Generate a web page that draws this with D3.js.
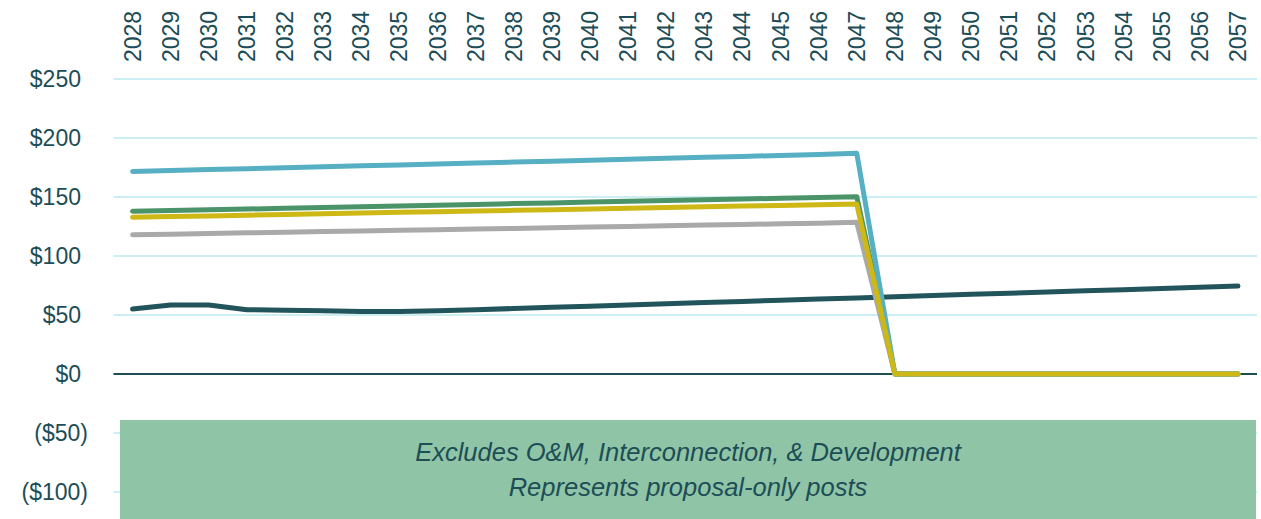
<!DOCTYPE html>
<html>
<head>
<meta charset="utf-8">
<script src="https://cdn.jsdelivr.net/npm/d3@7"></script>
<style>
  body { margin: 0; background: #fff; }
  svg { display: block; font-family: "Liberation Sans", Arial, sans-serif; }
</style>
</head>
<body>
<div id="chart"></div>
<script>
// years along the top
var years = d3.range(2028, 2058).map(String);
var yTicks = [250, 200, 150, 100, 50, 0, -50, -100];

// series values
var darkSeries = [55, 58.5, 58.5, 54.5, 54, 53.5, 53, 53, 53.5, 54.5, 55.5, 56.5, 57.5, 58.5, 59.5,
  60.5, 61.5, 62.5, 63.5, 64.5, 65.5, 66.5, 67.5, 68.5, 69.5, 70.5, 71.5, 72.5, 73.5, 74.5];
var graySeries = [118, 118.5, 119, 119.6, 120.1, 120.7, 121.2, 121.8, 122.3, 122.9, 123.4, 124,
  124.5, 125.1, 125.6, 126.2, 126.7, 127.3, 127.8, 128.5, 0, 0, 0, 0, 0, 0, 0, 0, 0, 0];
var greenSeries = [137.9, 138.5, 139.2, 139.8, 140.5, 141.1, 141.8, 142.4, 143.1, 143.7, 144.4, 145,
  145.7, 146.3, 147, 147.6, 148.3, 148.9, 149.6, 150.3, 0, 0, 0, 0, 0, 0, 0, 0, 0, 0];
var blueSeries = [171.6, 172.4, 173.2, 174, 174.8, 175.6, 176.4, 177.2, 178, 178.8, 179.6, 180.4,
  181.2, 182, 182.8, 183.6, 184.4, 185.2, 186, 187, 0, 0, 0, 0, 0, 0, 0, 0, 0, 0];
var yellowSeries = [132.8, 133.4, 134, 134.6, 135.2, 135.8, 136.4, 137, 137.5, 138.1, 138.7, 139.3,
  139.9, 140.5, 141.1, 141.7, 142.3, 142.8, 143.4, 144, 0, 0, 0, 0, 0, 0, 0, 0, 0, 0];
var noteLines = ['Excludes O&M, Interconnection, & Development', 'Represents proposal-only posts'];

var width = 1261, height = 519;
var textColor = '#1d4d56';

var x = d3.scalePoint().domain(years).range([113.5, 1257]).padding(0.5);
var y = d3.scaleLinear().domain([-100, 250]).range([492, 79]);

var svg = d3.select('#chart').append('svg').attr('width', width).attr('height', height);

// gridlines
svg.append('g').selectAll('line').data(yTicks.filter(function (d) { return d !== 0; }))
  .enter().append('line')
  .attr('x1', 113.5).attr('x2', 1257)
  .attr('y1', function (d) { return y(d); }).attr('y2', function (d) { return y(d); })
  .attr('stroke', '#cdeef4').attr('stroke-width', 2);

// y labels, accounting style
var fmt = function (d) { return d < 0 ? '($' + Math.abs(d) + ')' : '$' + d; };
svg.append('g').selectAll('text').data(yTicks).enter().append('text')
  .attr('x', function (d) { return d < 0 ? 88 : 81; })
  .attr('y', function (d) { return y(d); })
  .attr('dy', '0.35em')
  .attr('text-anchor', 'end')
  .attr('fill', textColor)
  .style('font-size', '23px')
  .text(fmt);

// year labels, rotated
svg.append('g').selectAll('text').data(years).enter().append('text')
  .attr('transform', function (d) { return 'translate(' + x(d) + ',62) rotate(-90)'; })
  .attr('dy', '0.35em')
  .attr('fill', textColor)
  .style('font-size', '23px')
  .text(function (d) { return d; });

// note box
var box = svg.append('g');
box.append('rect')
  .attr('x', 120).attr('width', 1256 - 120)
  .attr('y', y(-39)).attr('height', height - y(-39))
  .attr('fill', '#8fc5a6');
box.selectAll('text').data(noteLines).enter().append('text')
  .attr('x', 688)
  .attr('y', function (d, i) { return 452 + i * 35; })
  .attr('dy', '0.35em')
  .attr('text-anchor', 'middle')
  .attr('fill', textColor)
  .style('font-size', '25.5px')
  .style('font-style', 'italic')
  .text(function (d) { return d; });

// zero line
svg.append('line')
  .attr('x1', 113.5).attr('x2', 1257)
  .attr('y1', y(0)).attr('y2', y(0))
  .attr('stroke', '#1d4d56').attr('stroke-width', 2);

var line = d3.line()
  .x(function (d, i) { return x(years[i]); })
  .y(function (d) { return y(d); });

var series = [
  { values: darkSeries, color: '#22545b' },
  { values: graySeries, color: '#a9a9a9' },
  { values: greenSeries, color: '#4b9369' },
  { values: blueSeries, color: '#56afc3' },
  { values: yellowSeries, color: '#cdb815' }
];

svg.append('g').selectAll('path').data(series).enter().append('path')
  .attr('d', function (d) { return line(d.values); })
  .attr('fill', 'none')
  .attr('stroke', function (d) { return d.color; })
  .attr('stroke-width', 5)
  .attr('stroke-linejoin', 'round')
  .attr('stroke-linecap', 'round');
</script>
</body>
</html>
